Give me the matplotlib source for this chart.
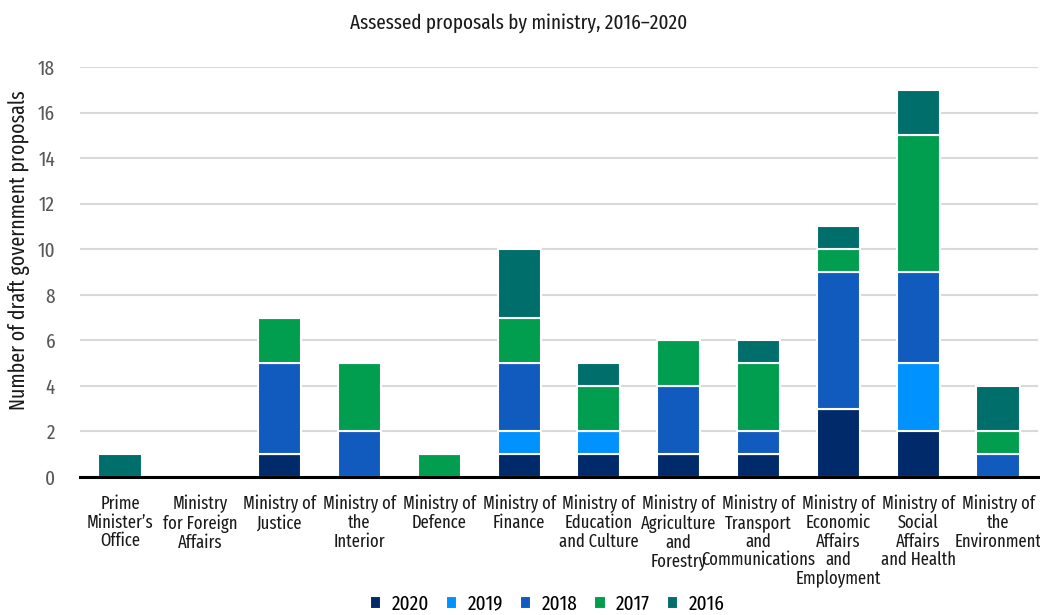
import numpy as np
import matplotlib
matplotlib.use("Agg")
import matplotlib.pyplot as plt
from matplotlib import font_manager

# pick a condensed sans that is available
names = {f.name for f in font_manager.fontManager.ttflist}
wanted = ["Fira Sans Extra Condensed", "Fira Sans Condensed", "PT Sans Narrow",
          "Roboto Condensed"]
family = next((n for n in wanted if n in names), "DejaVu Sans")
plt.rcParams["font.family"] = [family, "DejaVu Sans"]

ministries = [
    "Prime\nMinister\u2019s\nOffice",
    "Ministry\nfor Foreign\nAffairs",
    "Ministry of\nJustice",
    "Ministry of\nthe\nInterior",
    "Ministry of\nDefence",
    "Ministry of\nFinance",
    "Ministry of\nEducation\nand Culture",
    "Ministry of\nAgriculture\nand\nForestry",
    "Ministry of\nTransport\nand\nCommunications",
    "Ministry of\nEconomic\nAffairs\nand\nEmployment",
    "Ministry of\nSocial\nAffairs\nand Health",
    "Ministry of\nthe\nEnvironment",
]

years = ["2020", "2019", "2018", "2017", "2016"]
v2020 = [0, 0, 1, 0, 0, 1, 1, 1, 1, 3, 2, 0]
v2019 = [0, 0, 0, 0, 0, 1, 1, 0, 0, 0, 3, 0]
v2018 = [0, 0, 4, 2, 0, 3, 0, 3, 1, 6, 4, 1]
v2017 = [0, 0, 2, 3, 1, 2, 2, 2, 3, 1, 6, 1]
v2016 = [1, 0, 0, 0, 0, 3, 1, 0, 1, 1, 2, 2]
colors = ["#012a6b", "#0092ff", "#115bbf", "#009e4e", "#006f6c"]

fig = plt.figure(figsize=(10.4, 6.15), dpi=100)
ax = fig.add_axes([0.077, 0.2244, 0.921, 0.6667])

x = np.arange(len(ministries))
bottom = np.zeros(len(ministries))
for year, vals, c in zip(years, [v2020, v2019, v2018, v2017, v2016], colors):
    vals = np.array(vals, dtype=float)
    ax.bar(x, vals, 0.54, bottom=bottom, color=c, edgecolor="white",
           linewidth=1.5, label=year, zorder=3)
    bottom += vals

ax.set_xlim(-0.5, len(ministries) - 0.5)
ax.set_ylim(0, 18)
ax.set_yticks(range(0, 19, 2))
ax.grid(axis="y", color="#d9d9d9", linewidth=1.5, zorder=0)
for s in ["top", "right", "left"]:
    ax.spines[s].set_visible(False)
ax.spines["bottom"].set_linewidth(2.2)
ax.spines["bottom"].set_color("black")
ax.spines["bottom"].set_zorder(4)

ax.set_xticks(x)
ax.set_xticklabels(ministries, fontsize=13, color="#1a1a1a", linespacing=1.05)
ax.tick_params(axis="x", length=0, pad=13)
ax.tick_params(axis="y", length=0, labelsize=15, labelcolor="#595959", pad=18)

ax.set_ylabel("Number of draft government proposals", fontsize=15.5, color="#1a1a1a")
ax.yaxis.set_label_coords(-0.052, 0.554)
fig.text(0.499, 0.963, "Assessed proposals by ministry, 2016\u20132020",
         ha="center", va="center", fontsize=15, color="#1a1a1a")

fig.legend(loc="center", bbox_to_anchor=(0.526, 0.018), ncol=5, frameon=False,
           fontsize=15, handlelength=0.55, handleheight=0.55, handletextpad=0.5,
           columnspacing=0.8)

fig.savefig("out.png", dpi=100)
